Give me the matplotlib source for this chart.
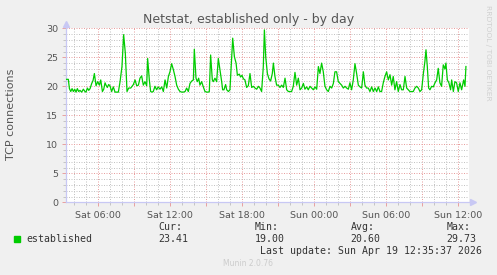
import matplotlib
matplotlib.use("Agg")
import matplotlib.pyplot as plt
from matplotlib.ticker import MultipleLocator

# hours since Sat 00:00, TCP connections (established)
hours = [
    3.36, 3.50, 3.59, 3.70, 3.81, 3.92, 4.03, 4.14, 4.25, 4.36, 4.47, 4.61, 4.75, 4.89, 4.97,
    5.09, 5.20, 5.31, 5.45, 5.56, 5.67, 5.81, 5.95, 6.09, 6.20, 6.34, 6.45, 6.56, 6.64, 6.75,
    6.86, 6.97, 7.11, 7.25, 7.39, 7.53, 7.67, 7.81, 7.97, 8.11, 8.25, 8.39, 8.53, 8.70, 8.81,
    8.92, 9.06, 9.20, 9.34, 9.47, 9.61, 9.75, 9.89, 10.03, 10.11, 10.25, 10.36, 10.47, 10.58,
    10.72, 10.86, 10.99, 11.14, 11.28, 11.42, 11.56, 11.70, 11.84, 11.97, 12.11, 12.25, 12.39,
    12.53, 12.67, 12.81, 12.95, 13.09, 13.23, 13.36, 13.50, 13.64, 13.78, 13.92, 14.00, 14.14,
    14.25, 14.36, 14.47, 14.61, 14.75, 14.89, 15.03, 15.17, 15.25, 15.36, 15.50, 15.58, 15.72,
    15.86, 16.00, 16.14, 16.28, 16.36, 16.47, 16.61, 16.70, 16.84, 16.97, 17.20, 17.34, 17.48,
    17.59, 17.75, 17.86, 17.97, 18.09, 18.22, 18.36, 18.50, 18.64, 18.78, 18.92, 19.06, 19.20,
    19.34, 19.47, 19.61, 19.75, 19.84, 19.95, 20.09, 20.22, 20.36, 20.50, 20.59, 20.72, 20.86,
    21.00, 21.14, 21.28, 21.42, 21.56, 21.70, 21.84, 21.97, 22.11, 22.25, 22.39, 22.53, 22.67,
    22.81, 22.95, 23.09, 23.22, 23.36, 23.50, 23.64, 23.78, 23.92, 24.06, 24.20, 24.34, 24.47,
    24.61, 24.75, 24.89, 25.03, 25.17, 25.31, 25.45, 25.59, 25.72, 25.86, 26.00, 26.14, 26.28,
    26.42, 26.56, 26.70, 26.84, 26.97, 27.11, 27.25, 27.39, 27.53, 27.67, 27.81, 27.95, 28.09,
    28.22, 28.36, 28.50, 28.64, 28.78, 28.92, 29.06, 29.20, 29.34, 29.47, 29.61, 29.75, 29.89,
    30.03, 30.17, 30.31, 30.45, 30.58, 30.72, 30.86, 31.00, 31.14, 31.28, 31.42, 31.56, 31.70,
    31.84, 31.97, 32.11, 32.25, 32.39, 32.53, 32.67, 32.81, 32.95, 33.08, 33.22, 33.31, 33.42,
    33.53, 33.64, 33.78, 33.92, 34.06, 34.20, 34.33, 34.47, 34.61, 34.75, 34.89, 34.97, 35.09,
    35.22, 35.36, 35.45, 35.59, 35.72, 35.86, 36.00, 36.14, 36.28, 36.45, 36.56, 36.64,
]
established = [
    21.2, 21.2, 19.6, 19.1, 19.6, 19.1, 19.5, 19.0, 19.6, 19.1, 19.3, 19.0, 19.5, 19.1, 19.0,
    19.7, 19.3, 19.6, 20.5, 21.0, 22.2, 20.1, 20.8, 20.2, 21.1, 19.1, 19.5, 20.6, 20.2, 19.8,
    20.3, 20.1, 19.1, 19.9, 19.0, 19.0, 19.0, 20.8, 23.4, 28.9, 25.7, 19.1, 19.7, 19.7, 20.0,
    20.3, 21.1, 20.1, 20.2, 21.4, 21.8, 20.2, 20.8, 20.1, 24.8, 21.1, 19.1, 19.0, 19.1,
    20.0, 19.4, 19.9, 19.5, 19.9, 19.1, 21.1, 19.7, 21.7, 22.5, 23.9, 22.9, 21.7,
    20.2, 19.5, 19.1, 19.0, 19.0, 19.1, 19.7, 19.1, 20.5, 20.9, 21.1, 26.4, 21.4,
    20.8, 21.4, 20.2, 20.8, 19.9, 19.1, 19.0, 19.0, 19.1, 25.4, 21.1, 20.8, 21.4,
    20.8, 24.8, 22.8, 20.8, 19.4, 19.4, 20.3, 19.4, 19.1, 19.4, 28.3, 25.1, 24.0,
    21.9, 22.1, 21.6, 21.9, 21.3, 21.1, 19.8, 20.1, 22.2, 19.8, 20.0, 19.7, 19.5,
    20.0, 19.7, 19.1, 23.4, 29.73, 25.1, 22.2, 21.3, 20.9, 22.2, 24.0, 21.7, 20.2,
    20.2, 19.8, 20.2, 19.8, 21.4, 19.4, 19.1, 19.1, 19.1, 20.0, 22.4, 20.2, 21.4,
    19.4, 19.7, 20.5, 19.5, 19.9, 19.4, 20.0, 19.7, 19.4, 19.9, 19.5, 23.4, 22.2,
    24.0, 22.5, 20.0, 19.4, 19.1, 20.0, 19.7, 20.5, 22.5, 22.5, 20.8, 20.5, 20.2,
    19.7, 20.0, 19.7, 19.5, 20.6, 19.4, 21.1, 23.9, 22.2, 20.2, 19.9, 19.7, 22.5,
    20.2, 19.7, 19.7, 19.1, 19.9, 19.1, 19.7, 19.1, 19.9, 19.1, 19.1, 20.6, 21.7,
    22.5, 21.1, 22.0, 20.2, 21.7, 19.4, 20.8, 19.1, 20.3, 19.4, 19.4, 21.7, 19.7,
    19.4, 19.1, 19.1, 19.1, 19.7, 20.0, 19.7, 19.1, 19.4, 22.0, 24.3, 26.3, 23.4,
    19.7, 19.4, 20.0, 19.9, 20.6, 21.1, 23.1, 20.6, 20.0, 23.7, 23.0, 24.0, 21.1,
    20.6, 19.4, 21.1, 19.1, 20.8, 20.6, 19.1, 20.6, 19.4, 21.1, 20.0, 23.41,
]
tick_hours = [6, 12, 18, 24, 30, 36]
tick_labels = ["Sat 06:00", "Sat 12:00", "Sat 18:00", "Sun 00:00", "Sun 06:00", "Sun 12:00"]
stats = {"Cur:": "23.41", "Min:": "19.00", "Avg:": "20.60", "Max:": "29.73"}

bg = "#f0f0f0"
major_c = "#e8a0a0"
minor_c = "#c4c4c4"
axis_c = "#c8c8f4"
text_c = "#555555"

fig = plt.figure(figsize=(4.97, 2.75), dpi=100, facecolor=bg)
ax = fig.add_axes([66.3 / 497, 1 - 202.3 / 275, 402.4 / 497, 174 / 275])
ax.set_facecolor("white")

ax.plot(hours, established, color="#00cc00", lw=0.9, zorder=3)

ax.set_xlim(3.33, 36.87)
ax.set_ylim(0, 30)

ax.xaxis.set_major_locator(MultipleLocator(3))
ax.xaxis.set_minor_locator(MultipleLocator(1))
ax.yaxis.set_major_locator(MultipleLocator(5))
ax.yaxis.set_minor_locator(MultipleLocator(1))
ax.grid(which="minor", color=minor_c, linestyle=(0, (1, 1.5)), lw=0.72)
ax.grid(which="major", color=major_c, linestyle=(0, (1, 1.5)), lw=0.72)

xt = ax.get_xticks()
ax.set_xticks(xt)
ax.set_xticklabels([tick_labels[tick_hours.index(int(t))] if int(t) in tick_hours else "" for t in xt])
ax.set_xlim(3.33, 36.87)

ax.tick_params(which="both", direction="out", colors=minor_c, length=2, width=0.7,
               labelcolor=text_c, labelsize=6.8)
ax.tick_params(axis="x", which="major", colors=major_c, length=3, pad=3)
ax.tick_params(axis="y", which="major", colors=major_c, length=3, pad=3)
ax.tick_params(axis="both", which="major", labelcolor=text_c)

for s in ["top", "right"]:
    ax.spines[s].set_visible(False)
for s in ["left", "bottom"]:
    ax.spines[s].set_color(axis_c)
    ax.spines[s].set_linewidth(0.9)
ax.plot(0, 1.025, marker="^", color=axis_c, ms=5, transform=ax.transAxes, clip_on=False)
ax.plot(1.01, 0, marker=">", color=axis_c, ms=5, transform=ax.transAxes, clip_on=False)

fig.text(248.5 / 497, 1 - 19 / 275, "Netstat, established only - by day", ha="center", va="center",
         fontsize=9, color=text_c)
fig.text(11 / 497, 1 - 114 / 275, "TCP connections", rotation=90, ha="center", va="center",
         fontsize=8, color=text_c)
fig.text(488 / 497, 1 - 5 / 275, "RRDTOOL / TOBI OETIKER", rotation=270, ha="center", va="top",
         fontsize=5.4, color="#d0d0d0")

mono = "DejaVu Sans Mono"
fig.patches.append(plt.Rectangle((14 / 497, 1 - 242 / 275), 6 / 497, 6 / 275, color="#00cc00",
                                 transform=fig.transFigure, figure=fig))
fig.text(26 / 497, 1 - 239.5 / 275, "established", family=mono, fontsize=7.1, color="#333333", va="center")
for x0, (k, v) in zip([158.7, 254.7, 350.7, 446.7], stats.items()):
    fig.text(x0 / 497, 1 - 227 / 275, k, family=mono, fontsize=7.1, color="#333333", va="center")
    fig.text(x0 / 497, 1 - 239.5 / 275, v, family=mono, fontsize=7.1, color="#333333", va="center")
fig.text(482.3 / 497, 1 - 251.5 / 275, "Last update: Sun Apr 19 12:35:37 2026", family=mono,
         fontsize=7.1, color="#333333", va="center", ha="right")
fig.text(248 / 497, 1 - 264 / 275, "Munin 2.0.76", fontsize=5.5, color="#cccccc", ha="center", va="center")

fig.savefig("out.png", dpi=100, facecolor=bg)
